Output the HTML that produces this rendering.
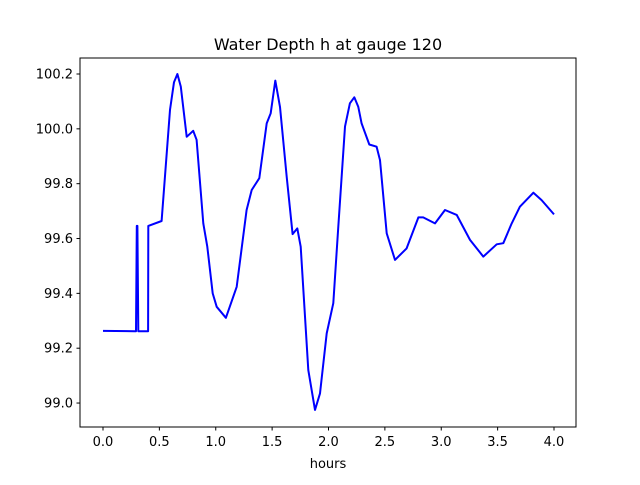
<!DOCTYPE html>
<html><head><meta charset="utf-8"><style>
body{margin:0;background:#fff}
svg text{font-family:"DejaVu Sans","Liberation Sans",sans-serif;fill:#000}
</style></head><body>
<svg id="chart" width="640" height="480" xmlns="http://www.w3.org/2000/svg">
<rect width="640" height="480" fill="#fff"/>
<text x="328" y="50" font-size="16" text-anchor="middle">Water Depth h at gauge 120</text>
<text x="328" y="468" font-size="13" text-anchor="middle">hours</text>
<g id="ticks"></g>
<polyline id="series" fill="none" stroke="#0000ff" stroke-width="2" stroke-linejoin="round"/>
<rect x="80" y="58" width="496" height="369" fill="none" stroke="#000" stroke-width="1"/>
</svg>
<script>
const hours=[0,0.284,0.293,0.300,0.305,0.313,0.318,0.40,0.402,0.52,0.594,0.63,0.66,0.69,0.742,0.80,0.83,0.89,0.925,0.973,1.008,1.09,1.186,1.274,1.319,1.386,1.452,1.487,1.528,1.57,1.629,1.682,1.723,1.753,1.821,1.88,1.925,1.984,2.043,2.087,2.146,2.19,2.229,2.264,2.294,2.362,2.427,2.457,2.516,2.59,2.693,2.797,2.84,2.945,3.033,3.137,3.255,3.373,3.492,3.55,3.625,3.698,3.817,3.89,4.0];
const depth=[99.263,99.262,99.262,99.646,99.646,99.262,99.262,99.262,99.646,99.664,100.069,100.17,100.2,100.154,99.971,99.993,99.96,99.655,99.57,99.40,99.351,99.311,99.424,99.704,99.777,99.82,100.02,100.057,100.176,100.08,99.825,99.616,99.637,99.57,99.12,98.975,99.035,99.254,99.364,99.643,100.008,100.093,100.115,100.08,100.02,99.943,99.935,99.886,99.619,99.522,99.564,99.677,99.677,99.655,99.704,99.686,99.595,99.534,99.579,99.583,99.655,99.716,99.767,99.74,99.688];
const xTicks=[0,0.5,1,1.5,2,2.5,3,3.5,4];
const yTicks=[99.0,99.2,99.4,99.6,99.8,100.0,100.2];
const X=v=>103+v*112.75;
const Y=v=>74+(100.2-v)*274.2;
const NS="http://www.w3.org/2000/svg";
const g=document.getElementById('ticks');
xTicks.forEach(t=>{
  const l=document.createElementNS(NS,'line');
  
  
  l.setAttribute('x1',X(t));l.setAttribute('x2',X(t));l.setAttribute('y1',427);l.setAttribute('y2',430.5);l.setAttribute('stroke','#000');
  g.appendChild(l);
  const s=document.createElementNS(NS,'text');
  
  
  s.setAttribute('x',X(t));s.setAttribute('y',446);s.setAttribute('font-size','13');s.setAttribute('text-anchor','middle');
  s.textContent=t.toFixed(1);g.appendChild(s);
});
yTicks.forEach(t=>{
  const l=document.createElementNS(NS,'line');
  
  
  l.setAttribute('x1',76.5);l.setAttribute('x2',80);l.setAttribute('y1',Y(t));l.setAttribute('y2',Y(t));l.setAttribute('stroke','#000');
  g.appendChild(l);
  const s=document.createElementNS(NS,'text');
  
  
  s.setAttribute('x',73);s.setAttribute('y',Y(t)+4.5);s.setAttribute('font-size','13');s.setAttribute('text-anchor','end');
  s.textContent=t.toFixed(1);g.appendChild(s);
});
document.getElementById('series').setAttribute('points',hours.map((h,i)=>X(h).toFixed(1)+','+Y(depth[i]).toFixed(1)).join(' '));
</script>
</body></html>
